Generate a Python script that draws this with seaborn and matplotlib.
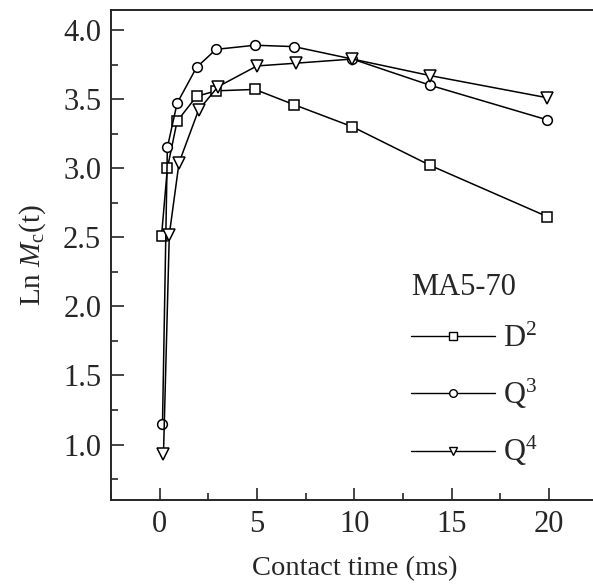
import numpy as np
import pandas as pd
import matplotlib
matplotlib.use('Agg')
import matplotlib.pyplot as plt
import seaborn as sns
from matplotlib.lines import Line2D
from matplotlib.ticker import MultipleLocator

# contact time (ms) and Ln Mc(t)
t_d2 = [0.1, 0.4, 0.9, 1.9, 2.9, 4.9, 6.9, 9.9, 13.9, 19.9]
ln_d2 = [2.51, 3.00, 3.34, 3.52, 3.56, 3.57, 3.46, 3.30, 3.02, 2.65]

t_q3 = [0.15, 0.4, 0.9, 1.9, 2.9, 4.9, 6.9, 9.9, 13.9, 19.9]
ln_q3 = [1.15, 3.15, 3.47, 3.73, 3.86, 3.89, 3.88, 3.79, 3.60, 3.35]

t_q4 = [0.2, 0.5, 1.0, 2.0, 3.0, 5.0, 7.0, 9.9, 13.9, 19.9]
ln_q4 = [0.93, 2.52, 3.04, 3.42, 3.59, 3.74, 3.76, 3.79, 3.67, 3.51]

labels = [r'$\mathrm{D}^2$', r'$\mathrm{Q}^3$', r'$\mathrm{Q}^4$']
legend_title = 'MA5-70'

sns.set_style('ticks')
plt.rcParams['font.family'] = ['Liberation Serif', 'DejaVu Serif']
plt.rcParams['mathtext.fontset'] = 'custom'
plt.rcParams['mathtext.rm'] = 'Liberation Serif'
plt.rcParams['mathtext.it'] = 'Liberation Serif:italic'

fig = plt.figure(figsize=(5.93, 5.88), dpi=100)
ax = fig.add_axes([0.187, 0.150, 0.821, 0.833])

series = [(t_d2, ln_d2, 's', 7), (t_q3, ln_q3, 'o', 7), (t_q4, ln_q4, 'v', 9)]
handles = []
for (t, y, m, ms), lab in zip(series, labels):
    df = pd.DataFrame({'t': t, 'y': y})
    sns.lineplot(data=df, x='t', y='y', ax=ax, color='black', lw=1.1,
                 marker=m, markersize=ms, markerfacecolor='white',
                 markeredgecolor='black', markeredgewidth=1.1, sort=False)
    handles.append(Line2D([], [], color='black', lw=1.0, marker=m, markersize=5.5,
                          markerfacecolor='white', markeredgecolor='black',
                          markeredgewidth=1.0, label=lab))

ax.set_xlim(-2.5, 22.5)
ax.set_ylim(0.6, 4.145)
ax.xaxis.set_major_locator(MultipleLocator(5))
ax.xaxis.set_minor_locator(MultipleLocator(2.5))
ax.yaxis.set_major_locator(MultipleLocator(0.5))
ax.yaxis.set_minor_locator(MultipleLocator(0.25))
ax.yaxis.set_major_formatter(matplotlib.ticker.FormatStrFormatter('%.1f'))
ax.tick_params(which='both', direction='in', width=1.2, labelsize=22, pad=7)
ax.tick_params(which='major', length=9)
ax.tick_params(which='minor', length=5)
ax.spines['right'].set_visible(False)
for s in ['left', 'bottom', 'top']:
    ax.spines[s].set_linewidth(1.4)

ax.set_xlabel('Contact time (ms)', fontsize=20.5, labelpad=13)
ax.set_ylabel(r'Ln $\mathit{M}_{\mathrm{c}}$(t)', fontsize=21, labelpad=11)

leg = ax.legend(handles=handles, title=legend_title, loc='upper left',
                bbox_to_anchor=(0.573, 0.507), frameon=False, fontsize=22,
                title_fontsize=22, handlelength=2.75, labelspacing=0.75,
                handletextpad=0.25, alignment='left', borderaxespad=0,
                borderpad=0.7)

fig.savefig('out.png', dpi=100)
